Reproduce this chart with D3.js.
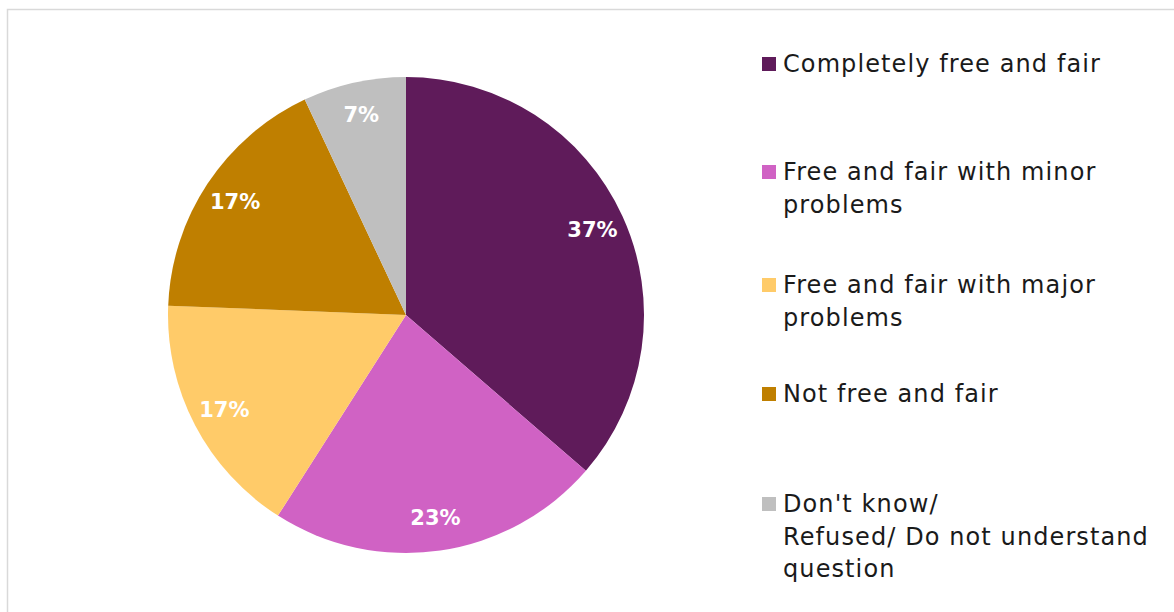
<!DOCTYPE html>
<html>
<head>
<meta charset="utf-8">
<script src="https://cdn.jsdelivr.net/npm/d3@7/dist/d3.min.js"></script>
<style>
  html, body { margin: 0; padding: 0; background: #ffffff; }
  svg { display: block; }
</style>
</head>
<body>
<svg id="chart" width="1174" height="612"></svg>
<script>
// ---- data ----
const categories = [
  "Completely free and fair",
  "Free and fair with minor problems",
  "Free and fair with major problems",
  "Not free and fair",
  "Don't know/ Refused/ Do not understand question"
];
const legendLines = [
  ["Completely free and fair"],
  ["Free and fair with minor", "problems"],
  ["Free and fair with major", "problems"],
  ["Not free and fair"],
  ["Don't know/", "Refused/ Do not understand", "question"]
];
const values = [36.4, 22.7, 16.6, 17.4, 7.0];
const valueLabels = ["37%", "23%", "17%", "17%", "7%"];
const colors = ["#5f1b5a", "#d062c4", "#ffcb69", "#bf7f00", "#bfbfbf"];

// ---- layout ----
const svg = d3.select("#chart");
const fontFamily = "'DejaVu Sans', sans-serif";

// chart border
svg.append("rect")
  .attr("x", 7.5).attr("y", 9.5)
  .attr("width", 1200).attr("height", 700)
  .attr("fill", "none")
  .attr("stroke", "#d9d9d9")
  .attr("stroke-width", 1.5);

const cx = 406, cy = 315, radius = 238, labelRadius = 205;

const pie = d3.pie().sort(null).value(d => d.value).startAngle(0).endAngle(2 * Math.PI);
const data = categories.map((c, i) => ({ cat: c, value: values[i], label: valueLabels[i], color: colors[i] }));
const arcs = pie(data);

const arc = d3.arc().innerRadius(0).outerRadius(radius);
const labelArc = d3.arc().innerRadius(labelRadius).outerRadius(labelRadius);

const g = svg.append("g").attr("transform", `translate(${cx},${cy})`);

g.selectAll("path.slice")
  .data(arcs)
  .join("path")
  .attr("class", "slice")
  .attr("d", arc)
  .attr("fill", d => d.data.color)
  .attr("stroke", "none");

g.selectAll("text.vlabel")
  .data(arcs)
  .join("text")
  .attr("class", "vlabel")
  .attr("transform", d => `translate(${labelArc.centroid(d)})`)
  .attr("text-anchor", "middle")
  .attr("dominant-baseline", "central")
  .attr("font-family", fontFamily)
  .attr("font-weight", "bold")
  .attr("font-size", 21)
  .attr("fill", "#ffffff")
  .text(d => d.data.label);

// ---- legend ----
const legendX = 762, squareSize = 14, textX = 783;
const legendFirstBaselines = [72, 180, 293, 402, 512];
const lineHeight = 32.5;

const leg = svg.append("g");
const items = leg.selectAll("g.item")
  .data(data)
  .join("g")
  .attr("class", "item");

items.append("rect")
  .attr("x", legendX)
  .attr("y", (d, i) => legendFirstBaselines[i] - 15)
  .attr("width", squareSize)
  .attr("height", squareSize)
  .attr("fill", d => d.color);

items.append("text")
  .attr("x", textX)
  .attr("y", (d, i) => legendFirstBaselines[i])
  .attr("font-family", fontFamily)
  .attr("font-size", 24)
  .attr("letter-spacing", 1.1)
  .attr("fill", "#1a1a1a")
  .each(function(d, i) {
    const t = d3.select(this);
    legendLines[i].forEach((line, j) => {
      t.append("tspan")
        .attr("x", textX)
        .attr("y", legendFirstBaselines[i] + j * lineHeight)
        .text(line);
    });
  });
</script>
</body>
</html>
